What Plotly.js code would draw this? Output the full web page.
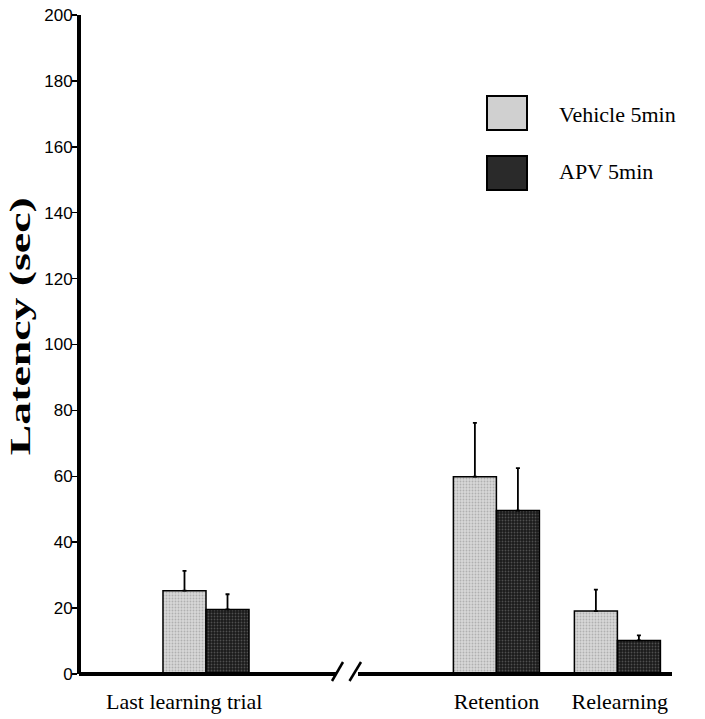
<!DOCTYPE html>
<html>
<head>
<meta charset="utf-8">
<script src="https://cdn.plot.ly/plotly-3.0.1.min.js"></script>
<style>html,body{margin:0;padding:0;background:#fff;}#chart{width:705px;height:719px;}</style>
</head>
<body>
<div id="chart"></div>
<script>
// ---- data ----
const categories = ["Last learning trial", "Retention", "Relearning"];
const seriesNames = ["Vehicle 5min", "APV 5min"];
const vehicleMean = [25.3, 59.9, 19.1];
const vehicleErr  = [6.0, 16.3, 6.5];
const apvMean     = [19.6, 49.6, 10.2];
const apvErr      = [4.6, 12.9, 1.5];
const yTickVals   = [0, 20, 40, 60, 80, 100, 120, 140, 160, 180, 200];

// ---- layout helpers (positions, not data) ----
const groupPos = [0, 2.4, 3.4];        // group centres on a broken axis
const labelPos = [-0.18, 2.4, 3.42];   // where the category labels sit
const serif = "Liberation Serif, Times New Roman, serif";
const sans  = "Liberation Sans, Arial, sans-serif";

const vehicle = {
  type: "bar", name: seriesNames[0], x: groupPos, y: vehicleMean,
  marker: {
    color: "#d0d0d0",
    line: {color: "#000", width: 1.5},
    pattern: {shape: ".", size: 3, solidity: 0.3, bgcolor: "#d8d8d8", fgcolor: "#b0b0b0", fillmode: "replace"}
  },
  error_y: {type: "data", symmetric: false, array: vehicleErr, arrayminus: vehicleErr.map(() => 0),
            color: "#000", thickness: 1.8, width: 2},
  hoverinfo: "skip"
};
const apv = {
  type: "bar", name: seriesNames[1], x: groupPos, y: apvMean,
  marker: {
    color: "#2a2a2a",
    line: {color: "#000", width: 1.5},
    pattern: {shape: ".", size: 3, solidity: 0.3, bgcolor: "#1a1a1a", fgcolor: "#4f4f4f", fillmode: "replace"}
  },
  error_y: {type: "data", symmetric: false, array: apvErr, arrayminus: apvErr.map(() => 0),
            color: "#000", thickness: 1.8, width: 2},
  hoverinfo: "skip"
};

// paper-coordinate helpers for a 705x719 page with the plot area l=81,t=15,w=591,h=659
const L = 81, T = 15, W = 591, H = 659;
const px = v => (v - L) / W;
const py = v => (T + H - v) / H;

const axisLine = {type: "line", xref: "paper", yref: "paper", line: {color: "#000", width: 4}};
const slash = {type: "line", xref: "paper", yref: "paper", line: {color: "#000", width: 2.5}};
const shapes = [
  Object.assign({}, axisLine, {x0: px(79), x1: px(336), y0: 0, y1: 0}),
  Object.assign({}, axisLine, {x0: px(358), x1: px(672), y0: 0, y1: 0}),
  Object.assign({}, slash, {x0: px(332), y0: py(681), x1: px(343), y1: py(662)}),
  Object.assign({}, slash, {x0: px(349.5), y0: py(681), x1: px(361), y1: py(662)}),
  // legend swatches
  {type: "rect", xref: "paper", yref: "paper", x0: px(487), x1: px(527), y0: py(130), y1: py(96),
   fillcolor: "#d0d0d0", line: {color: "#000", width: 2}},
  {type: "rect", xref: "paper", yref: "paper", x0: px(487), x1: px(527), y0: py(190), y1: py(156),
   fillcolor: "#2a2a2a", line: {color: "#000", width: 2}}
];

const annotations = [
  {xref: "paper", yref: "paper", x: px(557), y: py(114), xanchor: "left", yanchor: "middle",
   text: seriesNames[0], showarrow: false, font: {family: serif, size: 22, color: "#000"}},
  {xref: "paper", yref: "paper", x: px(557), y: py(172), xanchor: "left", yanchor: "middle",
   text: seriesNames[1], showarrow: false, font: {family: serif, size: 22, color: "#000"}},
  {xref: "paper", yref: "paper", x: px(20), y: py(327), xanchor: "center", yanchor: "middle",
   text: "<b>Latency (sec)</b>", textangle: -90, showarrow: false,
   font: {family: serif, size: 29, color: "#000"}}
];

const layout = {
  width: 705, height: 719,
  margin: {l: L, r: 705 - L - W, t: T, b: 719 - T - H, pad: 0},
  paper_bgcolor: "#fff", plot_bgcolor: "#fff",
  barmode: "group", bargap: 0.289, bargroupgap: 0,
  showlegend: false,
  xaxis: {
    range: [(L - 206) / 121, (L + W - 206) / 121],
    tickvals: labelPos, ticktext: categories,
    ticks: "", showline: false, showgrid: false, zeroline: false,
    ticklabelstandoff: 12,
    tickfont: {family: serif, size: 22, color: "#000"}
  },
  yaxis: {
    range: [0, 200], tickvals: yTickVals,
    ticks: "outside", ticklen: 5, tickwidth: 1.5, tickcolor: "#000",
    showline: true, linewidth: 4, linecolor: "#000",
    showgrid: false, zeroline: false,
    ticklabelstandoff: -4,
    tickfont: {family: sans, size: 17, color: "#000"}
  },
  shapes: shapes,
  annotations: annotations
};

Plotly.newPlot("chart", [vehicle, apv], layout, {staticPlot: true}).then(() => {
  // the original title is typeset stretched along its length
  document.querySelectorAll(".annotation-text").forEach(t => {
    if (t.textContent.indexOf("Latency") === 0) {
      t.setAttribute("textLength", "258");
      t.setAttribute("lengthAdjust", "spacingAndGlyphs");
    }
  });
});
</script>
</body>
</html>
